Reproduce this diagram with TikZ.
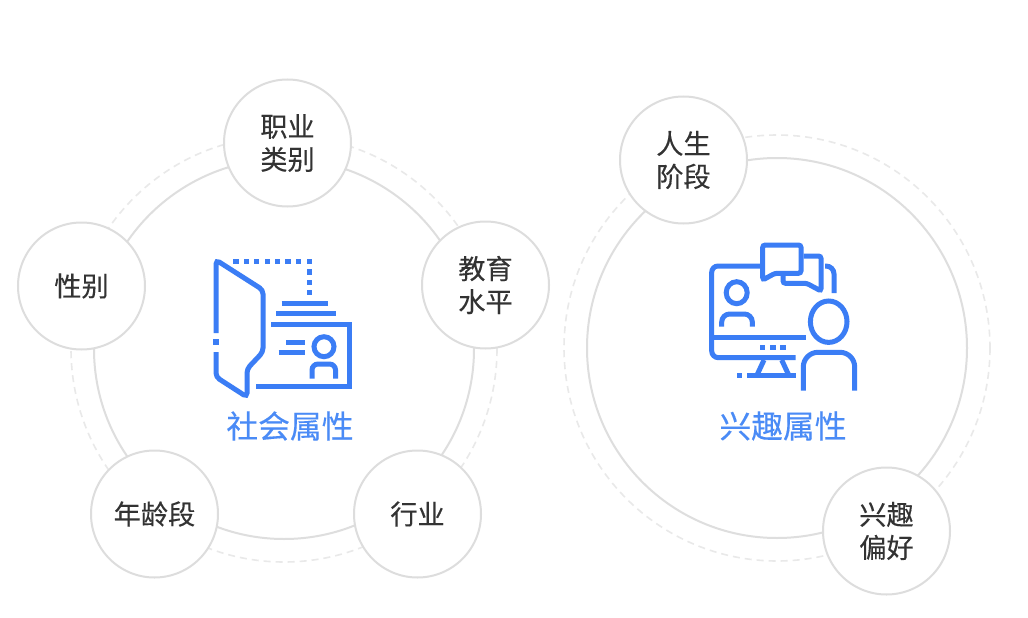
\documentclass[tikz,border=0pt]{standalone}
\usepackage{fontspec}
\setmainfont[FakeBold=0.25]{Noto Sans CJK SC}
\definecolor{ringc}{HTML}{DEDEDE}
\definecolor{dashc}{HTML}{E9E9E9}
\definecolor{smallc}{HTML}{DDDDDD}
\definecolor{iconc}{HTML}{3B7DF5}
\definecolor{titlec}{HTML}{4A8BF6}
\definecolor{textc}{HTML}{333333}
\tikzset{
  x=1pt,y=-1pt,
  ring/.style={draw=ringc,line width=2pt},
  dashring/.style={draw=dashc,line width=1.6pt,dash pattern=on 7pt off 5pt},
  badge/.style={circle,draw=smallc,line width=2pt,fill=white,minimum size=127pt,inner sep=0pt,text=textc,font=\fontsize{27.2pt}{33pt}\selectfont,align=center},
  title/.style={inner sep=0pt,text=titlec,font=\fontsize{31.8pt}{36pt}\selectfont},
  ico/.style={draw=iconc,line width=5pt,rounded corners=0pt},
  icor/.style={ico,rounded corners=4pt},
  icodot/.style={fill=iconc,minimum size=5.2pt,inner sep=0pt,rectangle}
}
\begin{document}
\begin{tikzpicture}
\useasboundingbox (0,0) rectangle (1028,618);
\fill[white] (0,0) rectangle (1028,618);
% rings
\draw[dashring] (284,349) circle[radius=213];
\draw[ring] (284,349) circle[radius=190];
\draw[dashring] (777,348) circle[radius=213];
\draw[ring] (777,348) circle[radius=190];
% badges
\node[badge] (zy) at (287.5,143) {职业\\类别};
\node[badge] (jy) at (485.5,285) {教育\\水平};
\node[badge] (xb) at (81.5,286) {性别};
\node[badge] (nl) at (154.5,514) {年龄段};
\node[badge] (hy) at (417.5,514) {行业};
\node[badge] (rs) at (683.5,160) {人生\\阶段};
\node[badge] (xq) at (886.5,531) {兴趣\\偏好};
% titles
\node[title] (t1) at (290,426) {社会属性};
\node[title] (t2) at (783,426) {兴趣属性};
% icon 1
\draw[icor] (216,333) -- (216,260) -- (263,290) -- (263,352) -- (247,369) -- (247,397) -- (216,377) -- (216,352);
\node[icodot] (d0) at (216,342) {};
\foreach \x in {236,246.4,256.8,267.2,277.6,288,298.4,309.5}{\node[icodot] at (\x,261.5) {};}
\foreach \y in {272,282.3,292.7}{\node[icodot] at (309.5,\y) {};}
\draw[ico] (281.5,303.3) -- (328,303.3);
\draw[ico] (276,313.7) -- (335.5,313.7);
\draw[ico] (271,324) -- (349,324) -- (349,386.7) -- (255.5,386.7);
\draw[ico] (286,342.3) -- (304.5,342.3);
\draw[ico] (278.5,352.7) -- (304.5,352.7);
\draw[ico] (324,346.7) circle[radius=10];
\draw[ico] (312,378.5) -- (312,370) arc[start angle=180,end angle=270,radius=6] -- (329.5,364) arc[start angle=270,end angle=360,radius=6] -- (335.5,378.5);
% icon 2
\draw[ico] (760,266) -- (718,266) arc[start angle=270,end angle=180,radius=6.3] -- (711.7,351) arc[start angle=180,end angle=90,radius=6.7] -- (795.7,357.7);
\draw[ico] (714,337.3) -- (805.7,337.3);
\foreach \x in {762.7,773,783}{\node[icodot] at (\x,347.3) {};}
\draw[ico] (764,360) -- (756.7,375.7);
\draw[ico] (781.7,360) -- (789,375.7);
\draw[ico] (747.3,375.7) -- (795.7,375.7);
\node[icodot] (d1) at (739.3,375.7) {};
\draw[icor,rounded corners=2.5pt] (762.7,280) -- (762.7,245) -- (801,245) -- (801,273.3) -- (775,273.3) -- cycle;
\draw[icor,rounded corners=2.5pt] (803.5,256) -- (821,256) -- (821,291) -- (806.7,283.3) -- (783,283.3) -- (783,275);
\draw[ico] (825,266) -- (826,266) arc[start angle=270,end angle=360,radius=8] -- (834,293);
\draw[ico] (736.7,292.7) ellipse[x radius=10.5,y radius=11];
\draw[ico] (721.7,326.7) -- (721.7,322) arc[start angle=180,end angle=270,radius=8] -- (744.3,314) arc[start angle=270,end angle=360,radius=8] -- (752.3,326.7);
\draw[ico] (828.7,321.7) ellipse[x radius=18.3,y radius=20.7];
\draw[ico] (803.3,390.7) -- (803.3,367) arc[start angle=180,end angle=270,radius=14.7] -- (840,352.3) arc[start angle=270,end angle=360,radius=14.7] -- (854.7,390.7);
\end{tikzpicture}
\end{document}
